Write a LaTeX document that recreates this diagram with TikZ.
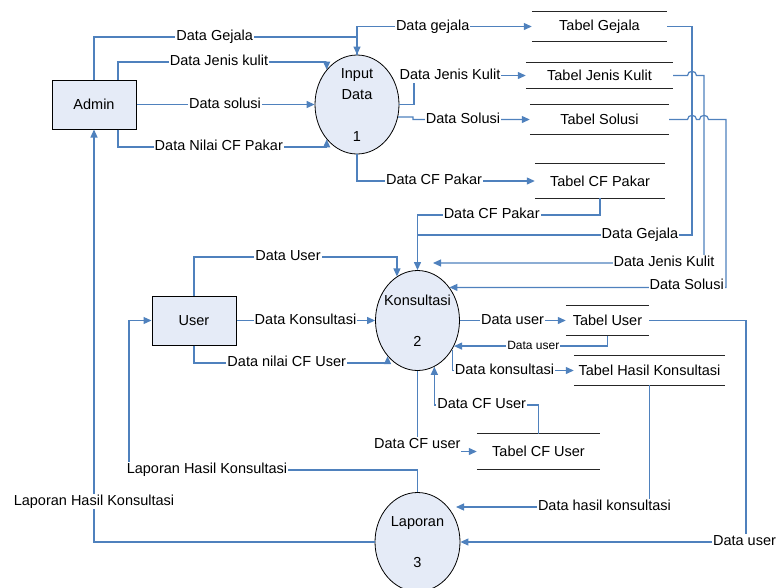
\documentclass[tikz,border=0pt]{standalone}
\usepackage{fontspec}
\setmainfont{Liberation Sans}
\usetikzlibrary{arrows.meta,shapes.geometric,calc}
\definecolor{flowblue}{RGB}{79,129,189}
\definecolor{procfill}{RGB}{229,235,247}
\begin{document}
\begin{tikzpicture}[x=1pt,y=-1pt,
  flow/.style={draw=flowblue,line width=1.2pt},
  arr/.style={flow,-{Triangle[length=8pt,width=7pt]}},
  lbl/.style={fill=white,inner xsep=1pt,inner ysep=1pt,text height=10.5pt,text depth=3pt,font=\fontsize{14.5}{16}\selectfont},
  smalllbl/.style={lbl,font=\fontsize{12}{14}\selectfont,text height=8.8pt,text depth=2.5pt},
  ent/.style={draw=black,line width=1pt,fill=procfill,minimum width=84pt,minimum height=49pt,inner sep=0pt,font=\fontsize{14.5}{16}\selectfont},
  proc/.style={ellipse,draw=black,line width=0.8pt,fill=procfill,inner sep=0pt},
  txt/.style={inner sep=0pt,text height=10.5pt,text depth=0pt,font=\fontsize{14.5}{16}\selectfont},
  store/.style={inner sep=0pt,font=\fontsize{14.5}{16}\selectfont},
  storeline/.style={draw=black!85,line width=1.3pt}
]
\useasboundingbox (0,0) rectangle (776,587);

% external entities
\node[ent] (admin) at (94,104.5) {Admin};
\node[ent] (user) at (194,320.5) {User};

% processes
\node[proc,minimum width=84pt,minimum height=99pt] (input) at (357,104.5) {};
\node[proc,minimum width=84pt,minimum height=100pt] (kons) at (417.5,320.5) {};
\node[proc,minimum width=85pt,minimum height=99pt] (lap) at (417.5,542) {};
\node[txt] (inputa) at (357,73) {Input};
\node[txt] (inputb) at (357,94) {Data};
\node[txt] (inputc) at (357,136) {1};
\node[txt] (konsa) at (417.5,300.7) {Konsultasi};
\node[txt] (konsb) at (417.5,341.7) {2};
\node[txt] (lapa) at (417.5,521.7) {Laporan};
\node[txt] (lapb) at (417.5,562) {3};

% data stores
\node[store,minimum width=135pt,minimum height=29pt] (tgej) at (599.5,26.5) {Tabel Gejala};
\node[store,minimum width=147pt,minimum height=25pt] (tjk) at (599.5,75.5) {Tabel Jenis Kulit};
\node[store,minimum width=139pt,minimum height=29pt] (tsol) at (599.5,119.5) {Tabel Solusi};
\node[store,minimum width=130pt,minimum height=34pt] (tcfp) at (600,181) {Tabel CF Pakar};
\node[store,minimum width=83pt,minimum height=30pt] (tuser) at (607.5,320.5) {Tabel User};
\node[store,minimum width=151pt,minimum height=29pt] (thk) at (649.5,370.5) {Tabel Hasil Konsultasi};
\node[store,minimum width=123pt,minimum height=35pt] (tcfu) at (538.5,451.5) {Tabel CF User};
\foreach \s in {tgej,tjk,tsol,tcfp,tuser,thk,tcfu}
  \draw[storeline] (\s.north west) -- (\s.north east) (\s.south west) -- (\s.south east);

\coordinate (jkend) at (433,263);
\coordinate (hkend) at (456,507);

% flows
\draw[arr] (admin.north) |- (input.north |- 0,37) -- (input.north);
\draw[arr] (input.north) |- (tgej.west);
\draw[arr] ([xshift=24pt]admin.north) |- (input.131 |- 0,62) -- (input.131);
\draw[arr] (admin.east) -- (input.west);
\draw[arr] ([xshift=24pt]admin.south) |- (input.229 |- 0,147) -- (input.229);
\draw[arr] (input.east) -- (414,104.5) |- (tjk.west);
\draw[arr] (input.-17) -- (413,117) -- (413,119.5) -- (tsol.west);
\draw[arr] (input.south) |- (tcfp.west);
\draw[arr] (tcfp.south) |- (kons.north |- 0,215) -- (kons.north);
\draw[flow] (tgej.east) -| (692,235) -- (kons.north |- 0,235);
\draw[arr] (tjk.east) -- (687.5,75.5) .. controls (687.5,70) and (696.5,70) .. (696.5,75.5) -- (704,75.5) -- (704,263) -- (jkend);
\draw[arr] (tsol.east) -- (687.5,119.5) .. controls (687.5,114) and (696.5,114) .. (696.5,119.5) -- (699.5,119.5) .. controls (699.5,114) and (708.5,114) .. (708.5,119.5) -- (726,119.5) -- (kons.46 -| 726,0) -- (kons.46);
\draw[arr] (user.north) |- (kons.115 |- 0,257) -- (kons.115);
\draw[arr] (user.east) -- (kons.west);
\draw[arr] (user.south) |- (kons.230 |- 0,363) -- (kons.230);
\draw[arr] (lap.north) |- (129,470) |- (user.west);
\draw[arr] (lap.west) -| (admin.south);
\draw[arr] (kons.east) -- (tuser.west);
\draw[arr] (tuser.south) |- (kons.-35);
\draw[arr] (kons.-40) |- (thk.west);
\draw[arr] (thk.south) |- (hkend);
\draw[arr] (tuser.east) -| (746,542) -- (lap.east);
\draw[arr] (kons.south) |- (tcfu.west);
\draw[arr] (tcfu.north) |- (kons.-70 |- 0,405) -- (kons.-70);

% labels
\node[lbl] (l1) at (214.7,37) {Data Gejala};
\node[lbl] (l2) at (432.7,26.5) {Data gejala};
\node[lbl] (l3) at (219,62) {Data Jenis kulit};
\node[lbl] (l4) at (225,104.5) {Data solusi};
\node[lbl] (l5) at (218.8,147) {Data Nilai CF Pakar};
\node[lbl] (l6) at (450,75.5) {Data Jenis Kulit};
\node[lbl] (l7) at (463,119.5) {Data Solusi};
\node[lbl] (l8) at (434,181) {Data CF Pakar};
\node[lbl] (l9) at (491.7,215) {Data CF Pakar};
\node[lbl] (l10) at (640,235) {Data Gejala};
\node[lbl] (l11) at (664,263) {Data Jenis Kulit};
\node[lbl] (l12) at (686.7,286) {Data Solusi};
\node[lbl] (l13) at (288,257) {Data User};
\node[lbl] (l14) at (305.5,320.5) {Data Konsultasi};
\node[lbl] (l15) at (286.7,363) {Data nilai CF User};
\node[lbl] (l16) at (207,470) {Laporan Hasil Konsultasi};
\node[lbl] (l17) at (94,501.7) {Laporan Hasil Konsultasi};
\node[lbl] (l18) at (512.5,320.5) {Data user};
\node[smalllbl] (l19) at (533.3,345.9) {Data user};
\node[lbl] (l20) at (504.5,370.5) {Data konsultasi};
\node[lbl] (l21) at (604.5,507) {Data hasil konsultasi};
\node[lbl] (l22) at (744.5,542) {Data user};
\node[lbl] (l23) at (417.3,445) {Data CF user};
\node[lbl] (l24) at (481.7,405) {Data CF User};
\end{tikzpicture}
\end{document}
